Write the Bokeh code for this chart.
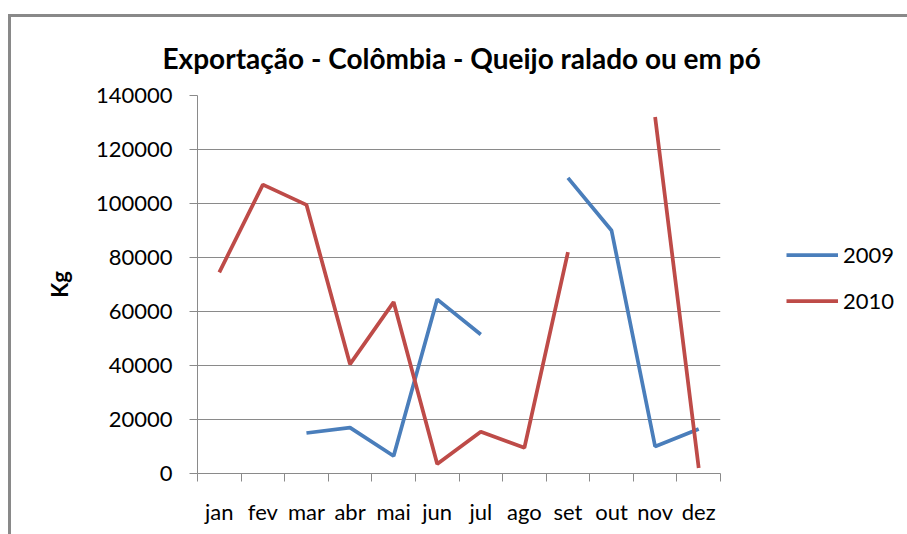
import numpy as np
from bokeh.plotting import figure
from bokeh.layouts import row
from bokeh.models import (FixedTicker, Legend, LegendItem, Title, NumeralTickFormatter,
                          ColumnDataSource, Range1d)
from bokeh.embed import file_html
from bokeh.resources import INLINE

months = ["jan", "fev", "mar", "abr", "mai", "jun", "jul", "ago", "set", "out", "nov", "dez"]
s2009 = [np.nan, np.nan, 15000, 17000, 6500, 64500, 51500, np.nan, 109500, 90000, 10000, 16500]
s2010 = [74500, 107000, 99500, 40500, 63500, 3500, 15500, 9500, 82000, np.nan, 132000, 2000]
y_ticks = [0, 20000, 40000, 60000, 80000, 100000, 120000, 140000]
series_names = ["2009", "2010"]

FONT = "Lato"
BLUE = "#4A7EBB"
RED = "#BE4B48"
GRID = "#8a8a8a"
LW = 3.75

n = len(months)
xpos = np.arange(n) + 0.5

src = ColumnDataSource(dict(x=xpos, a=s2009, b=s2010))

H = 517
p = figure(width=769, height=H, x_range=(0, n), y_range=(y_ticks[0], y_ticks[-1]),
           output_backend="svg", toolbar_location=None,
           min_border_left=186, min_border_right=60, min_border_top=78, min_border_bottom=61)
p.outline_line_color = None
p.background_fill_color = "white"
p.border_fill_color = "white"

r1 = p.line("x", "a", source=src, line_color=BLUE, line_width=LW)
r2 = p.line("x", "b", source=src, line_color=RED, line_width=LW)

# axes
p.xaxis.ticker = FixedTicker(ticks=list(xpos), minor_ticks=list(range(n + 1)))
p.xaxis.major_label_overrides = {float(x): m for x, m in zip(xpos, months)}
p.xaxis.major_tick_out = 0
p.xaxis.major_tick_in = 0
p.xaxis.minor_tick_out = 8
p.xaxis.minor_tick_in = 0
p.xaxis.minor_tick_line_color = GRID
p.xaxis.axis_line_color = GRID
p.xaxis.major_label_text_font = FONT
p.xaxis.major_label_text_font_size = "22px"
p.xaxis.major_label_text_color = "black"
p.xaxis.major_label_standoff = 16

p.yaxis.ticker = FixedTicker(ticks=y_ticks)
p.yaxis.formatter = NumeralTickFormatter(format="0")
p.yaxis.minor_tick_line_color = None
p.yaxis.major_tick_out = 8
p.yaxis.major_tick_in = 0
p.yaxis.major_tick_line_color = GRID
p.yaxis.axis_line_color = GRID
p.yaxis.major_label_text_font = FONT
p.yaxis.major_label_text_font_size = "22px"
p.yaxis.major_label_text_color = "black"
p.yaxis.major_label_standoff = 17
p.yaxis.axis_label = "Kg"
p.yaxis.axis_label_text_font = FONT
p.yaxis.axis_label_text_font_size = "22px"
p.yaxis.axis_label_text_font_style = "bold"
p.yaxis.axis_label_text_color = "black"
p.yaxis.axis_label_standoff = 20

p.xgrid.grid_line_color = None
p.ygrid.grid_line_color = GRID
p.ygrid.ticker = FixedTicker(ticks=y_ticks[1:])

p.title = Title(text="Exportação - Colômbia - Queijo ralado ou em pó", align="left",
                offset=-35, text_font=FONT, text_font_size="28px", text_font_style="bold",
                text_color="black", standoff=41)

# legend panel to the right of the plot area
q = figure(width=127, height=H, x_range=Range1d(0, 1), y_range=Range1d(0, 1),
           output_backend="svg", toolbar_location=None, min_border=0)
q.axis.visible = False
q.grid.visible = False
q.outline_line_color = None
q.background_fill_color = "white"
q.border_fill_color = "white"
d1 = q.line(x=[np.nan], y=[np.nan], line_color=BLUE, line_width=LW)
d2 = q.line(x=[np.nan], y=[np.nan], line_color=RED, line_width=LW)

legend = Legend(items=[LegendItem(label=series_names[0], renderers=[d1]),
                       LegendItem(label=series_names[1], renderers=[d2])],
                location=(6, 159), orientation="vertical",
                label_text_font=FONT, label_text_font_size="22px", label_text_color="black",
                glyph_width=52, glyph_height=25, spacing=19, label_standoff=5,
                padding=0, margin=0, border_line_color=None, background_fill_alpha=0)
q.add_layout(legend)

layout = row(p, q, styles={"margin-left": "8px", "margin-top": "14px",
                           "border-left": "3px solid #898989",
                           "border-top": "3px solid #898989"})

open("out.html", "w").write(file_html(layout, INLINE))
